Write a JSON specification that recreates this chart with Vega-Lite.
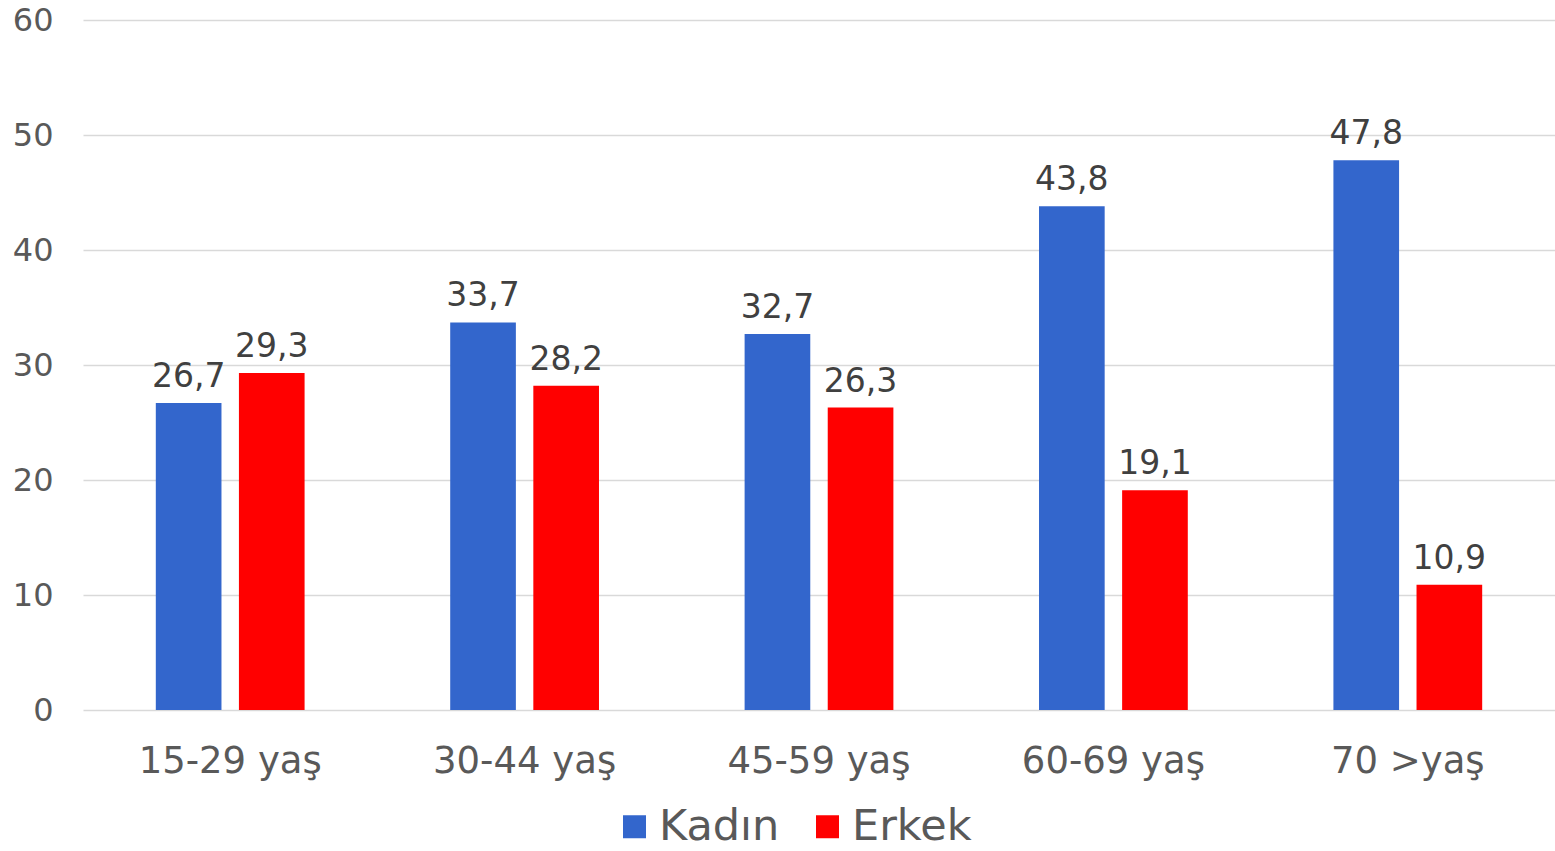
{
  "$schema": "https://vega.github.io/schema/vega-lite/v6.json",
  "width": 1472,
  "height": 690,
  "autosize": {"type": "none"},
  "padding": {"left": 83, "top": 20, "right": 0, "bottom": 141},
  "background": "white",
  "config": {
    "font": "DejaVu Sans",
    "view": {"stroke": null},
    "locale": {"number": {"decimal": ",", "thousands": ".", "grouping": [3], "currency": ["", " TL"]}}
  },
  "data": {"values": [
    {"grup": "15-29 yaş", "cinsiyet": "Kadın", "deger": 26.7},
    {"grup": "15-29 yaş", "cinsiyet": "Erkek", "deger": 29.3},
    {"grup": "30-44 yaş", "cinsiyet": "Kadın", "deger": 33.7},
    {"grup": "30-44 yaş", "cinsiyet": "Erkek", "deger": 28.2},
    {"grup": "45-59 yaş", "cinsiyet": "Kadın", "deger": 32.7},
    {"grup": "45-59 yaş", "cinsiyet": "Erkek", "deger": 26.3},
    {"grup": "60-69 yaş", "cinsiyet": "Kadın", "deger": 43.8},
    {"grup": "60-69 yaş", "cinsiyet": "Erkek", "deger": 19.1},
    {"grup": "70 >yaş", "cinsiyet": "Kadın", "deger": 47.8},
    {"grup": "70 >yaş", "cinsiyet": "Erkek", "deger": 10.9}
  ]},
  "encoding": {
    "x": {
      "field": "grup", "type": "nominal", "sort": null,
      "scale": {"paddingInner": 0.0, "paddingOuter": 0.0},
      "axis": {"title": null, "labelAngle": 0, "labelFontSize": 37, "labelLimit": 0, "labelColor": "#595959", "labelPadding": 33, "ticks": false, "domain": false, "grid": false}
    },
    "xOffset": {"field": "cinsiyet", "type": "nominal", "sort": ["Kadın", "Erkek"], "scale": {"paddingInner": 0.21, "paddingOuter": 0.876}},
    "y": {
      "field": "deger", "type": "quantitative",
      "scale": {"domain": [0, 60], "nice": false},
      "axis": {"title": null, "values": [0, 10, 20, 30, 40, 50, 60], "labelFontSize": 32, "labelColor": "#595959", "labelPadding": 30, "ticks": false, "domain": false, "gridColor": "#D9D9D9", "gridWidth": 1.5}
    }
  },
  "layer": [
    {
      "mark": {"type": "bar"},
      "encoding": {
        "color": {
          "field": "cinsiyet", "type": "nominal",
          "scale": {"domain": ["Kadın", "Erkek"], "range": ["#3366CC", "#FF0000"]},
          "legend": {"title": null, "orient": "none", "legendX": 530, "legendY": 785, "direction": "horizontal", "symbolType": "square", "symbolSize": 529, "symbolStrokeWidth": 0, "labelFontSize": 43, "labelColor": "#595959", "columnPadding": 26, "labelOffset": 3}
        }
      }
    },
    {
      "mark": {"type": "text", "baseline": "alphabetic", "dy": -16, "fontSize": 33, "color": "#404040"},
      "encoding": {"text": {"field": "deger", "type": "quantitative", "format": ".1f"}}
    }
  ]
}
